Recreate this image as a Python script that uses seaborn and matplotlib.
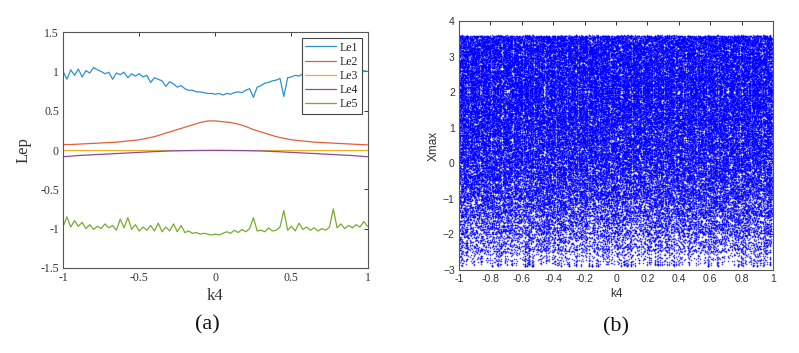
import numpy as np
import pandas as pd
import seaborn as sns
import matplotlib.pyplot as plt

# ---- data ----
k4_fine = np.linspace(-1, 1, 81)
le1 = [1.00, 0.90, 1.02, 0.95, 1.03, 0.93, 1.01, 0.98, 1.05, 1.02, 1.00, 0.97, 0.99, 0.90, 0.98, 0.96,
       0.99, 0.92, 0.97, 0.94, 0.97, 0.93, 0.95, 0.86, 0.92, 0.90, 0.88, 0.81, 0.87, 0.84, 0.80, 0.82,
       0.78, 0.76, 0.76, 0.74, 0.74, 0.73, 0.72, 0.72, 0.71, 0.72, 0.70, 0.72, 0.71, 0.73, 0.74, 0.73,
       0.76, 0.78, 0.67, 0.80, 0.82, 0.85, 0.86, 0.88, 0.89, 0.91, 0.68, 0.92, 0.93, 0.95, 0.94, 0.97,
       0.96, 0.98, 0.90, 0.99, 1.01, 0.98, 1.00, 1.02, 1.00, 1.03, 0.99, 1.02, 1.00, 1.03, 0.93, 1.01, 1.00]
le5 = [-0.97, -0.85, -0.98, -0.90, -0.97, -0.92, -1.00, -0.95, -1.01, -0.97, -1.00, -0.94, -0.99, -0.96,
       -1.02, -0.88, -0.99, -0.86, -1.01, -0.95, -1.03, -0.98, -1.02, -0.96, -1.03, -0.93, -1.04, -0.98,
       -1.03, -0.94, -1.04, -0.96, -1.05, -1.03, -1.06, -1.05, -1.07, -1.06, -1.07, -1.08, -1.07, -1.08,
       -1.06, -1.04, -1.06, -1.02, -1.05, -1.01, -1.04, -1.00, -0.86, -1.03, -1.02, -1.04, -0.99, -1.03,
       -1.02, -0.98, -0.77, -1.02, -0.97, -1.03, -0.93, -1.01, -0.98, -1.02, -0.99, -1.03, -1.00, -1.02,
       -0.98, -0.75, -0.99, -0.94, -1.00, -0.96, -0.99, -0.95, -0.98, -0.91, -0.97]

k4_coarse = np.linspace(-1, 1, 41)
le2 = [0.07, 0.07, 0.075, 0.08, 0.085, 0.09, 0.095, 0.10, 0.11, 0.12, 0.13, 0.15, 0.17, 0.20, 0.23, 0.26,
       0.29, 0.32, 0.35, 0.37, 0.37, 0.36, 0.35, 0.33, 0.30, 0.26, 0.23, 0.20, 0.17, 0.15, 0.13, 0.12,
       0.11, 0.10, 0.095, 0.09, 0.085, 0.08, 0.075, 0.07, 0.065]
le3 = [0.005] * 41
le4 = [-0.085, -0.078, -0.07, -0.065, -0.06, -0.055, -0.05, -0.045, -0.04, -0.035, -0.03, -0.025, -0.02,
       -0.016, -0.012, -0.01, -0.008, -0.007, -0.006, -0.005, -0.005, -0.005, -0.006, -0.007, -0.008,
       -0.01, -0.012, -0.016, -0.02, -0.025, -0.03, -0.035, -0.04, -0.045, -0.05, -0.055, -0.06, -0.065,
       -0.07, -0.078, -0.085]

# bifurcation panel: relative point density over Xmax
density_levels = [-2.9, -2.5, -2.0, -1.5, -1.0, -0.5, 0.0, 0.5, 1.0, 1.5, 2.0, 2.5, 3.0, 3.6]
density_weight = [0.10, 0.22, 0.38, 0.52, 0.66, 0.78, 0.86, 0.93, 1.0, 1.05, 1.1, 1.1, 1.1, 1.15]
n_cols = 600
n_pts = 120

matlab = ["#2f8fd0", "#e0603a", "#edb120", "#8e4aa0", "#77ac30"]

# chaotic (logistic map r=4) sequence per k4 column, turned into uniform values
k4_cols = np.linspace(-1, 1, n_cols)
x = 0.1 + 0.8 * (np.arange(n_cols) * 0.6180339887 % 1.0)
for _ in range(200):
    x = 4 * x * (1 - x)
us = []
for _ in range(n_pts):
    x = 4 * x * (1 - x)
    x = np.clip(x, 1e-12, 1 - 1e-12)
    us.append(2 / np.pi * np.arcsin(np.sqrt(x)))
us = np.array(us)
lev = np.array(density_levels)
w = np.array(density_weight)
cdf = np.concatenate([[0], np.cumsum((w[1:] + w[:-1]) / 2 * np.diff(lev))])
cdf /= cdf[-1]
xmax_vals = np.interp(us, cdf, lev)
bif = pd.DataFrame({"k4": np.tile(k4_cols, n_pts), "Xmax": xmax_vals.ravel()})

# ---- figure ----
sns.set_style("white")
fig = plt.figure(figsize=(7.99, 3.53), dpi=100)
ax1 = fig.add_axes([0.079, 0.241, 0.381, 0.668])
ax2 = fig.add_axes([0.5745, 0.235, 0.393, 0.705])

serif = ["Liberation Serif", "DejaVu Serif"]
sans = ["Liberation Sans", "DejaVu Sans"]

lines = [("Le1", k4_fine, le1), ("Le2", k4_coarse, le2), ("Le3", k4_coarse, le3),
         ("Le4", k4_coarse, le4), ("Le5", k4_fine, le5)]
for (name, xs, ys), c in zip(lines, matlab):
    sns.lineplot(x=xs, y=ys, ax=ax1, color=c, lw=0.9, label=name)
ax1.set_xlim(-1, 1)
ax1.set_ylim(-1.5, 1.5)
ax1.set_xticks([-1, -0.5, 0, 0.5, 1])
ax1.set_xticklabels(["-1", "-0.5", "0", "0.5", "1"])
ax1.set_yticks([-1.5, -1, -0.5, 0, 0.5, 1, 1.5])
ax1.set_yticklabels(["-1.5", "-1", "-0.5", "0", "0.5", "1", "1.5"])
ax1.set_xlabel("k4", family=serif, fontsize=12, color="#333333", labelpad=3)
ax1.set_ylabel("Lep", family=serif, fontsize=12, color="#333333", labelpad=6)
leg = ax1.legend(loc="upper right", prop={"family": serif, "size": 8.5}, handlelength=2.6,
                 frameon=True, fancybox=False, framealpha=1, borderpad=0.3, labelspacing=0.18,
                 handletextpad=0.3, borderaxespad=0.5)
leg.get_frame().set_edgecolor("#444444")
leg.get_frame().set_linewidth(0.8)
leg.set_zorder(10)

sns.scatterplot(data=bif, x="k4", y="Xmax", ax=ax2, color="#0000ff", s=1.4, linewidth=0,
                alpha=0.7, legend=False)
ax2.set_xlim(-1, 1)
ax2.set_ylim(-3, 4)
ax2.set_xticks(np.round(np.arange(-1, 1.01, 0.2), 1))
ax2.set_xticklabels(["-1", "-0.8", "-0.6", "-0.4", "-0.2", "0", "0.2", "0.4", "0.6", "0.8", "1"])
ax2.set_yticks(range(-3, 5))
ax2.set_xlabel("k4", family=sans, fontsize=8.5, color="#333333", labelpad=3)
ax2.set_ylabel("Xmax", family=sans, fontsize=8.5, color="#333333", labelpad=2)

for ax, fam, fs in [(ax1, serif, 8.5), (ax2, sans, 7.5)]:
    for sp in ax.spines.values():
        sp.set_visible(True)
        sp.set_color("#555555")
        sp.set_linewidth(0.8)
    ax.tick_params(direction="in", length=3, width=0.7, top=True, right=True,
                   labelsize=fs, colors="#333333", pad=3)
    for t in ax.get_xticklabels() + ax.get_yticklabels():
        t.set_family(fam)

fig.text(0.259, 0.08, "(a)", family=serif, fontsize=16, ha="center", va="center", color="#111111")
fig.text(0.771, 0.075, "(b)", family=serif, fontsize=16, ha="center", va="center", color="#111111")

fig.savefig("out.png", dpi=100)
